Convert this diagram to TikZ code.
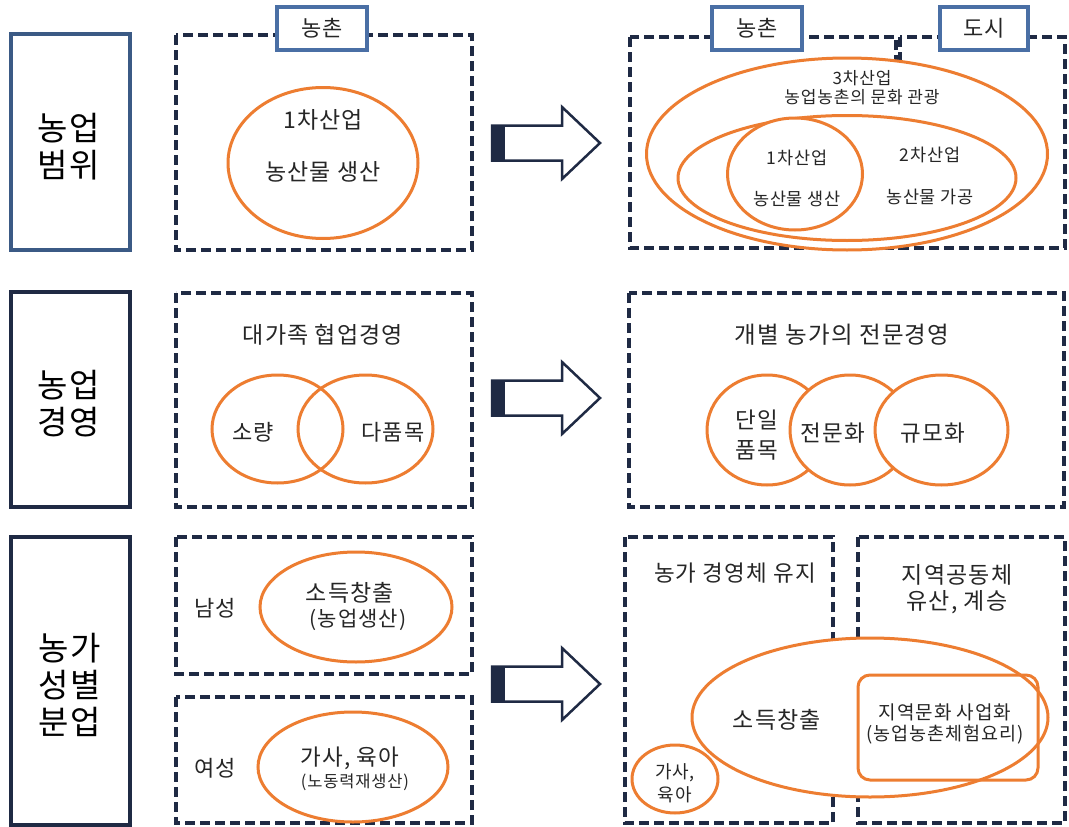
\documentclass[tikz,border=0pt]{standalone}
\usepackage{fontspec}
\setmainfont{Noto Sans CJK KR}[LetterSpace=5]
\usetikzlibrary{shapes.geometric}
\definecolor{orng}{HTML}{ED7D31}
\definecolor{navy}{HTML}{1F2A44}
\definecolor{tabblue}{HTML}{4A6FA5}
\definecolor{lblblue}{HTML}{3B5A85}
\definecolor{txt}{HTML}{262626}
\begin{document}
\begin{tikzpicture}[x=1pt,y=-1pt,
  dbox/.style={draw=navy, line width=3.6pt, dash pattern=on 10pt off 5pt},
  lblbox/.style={draw=navy, line width=4pt},
  tabbox/.style={draw=tabblue, line width=3.5pt, fill=white, inner sep=0pt},
  oval/.style={ellipse, draw=orng, line width=3pt, inner sep=0pt},
  arrowline/.style={draw=navy, line width=2.5pt, fill=white, line join=miter},
  t/.style={text=txt, inner sep=0pt, font=\fontsize{#1}{#1}\selectfont},
  big/.style={text=black, inner sep=0pt, align=center, font=\fontsize{33}{37}\selectfont}]
\useasboundingbox (0,0) rectangle (1069,827);
\fill[white] (0,0) rectangle (1069,827);

% left label boxes
\draw[lblbox, draw=lblblue] (11,34) rectangle (130,250);
\draw[lblbox] (11,292) rectangle (130,507);
\draw[lblbox] (11,537) rectangle (130,825);
\node[big] (L1) at (69,146.5) {농업\\범위};
\node[big] (L2) at (69,403.5) {농업\\경영};
\node[big] (L3) at (70,685) {농가\\성별\\분업};

% arrows
\foreach \c in {143,398,684} {
  \draw[arrowline] (492,\c-17.5) -- (562,\c-17.5) -- (562,\c-36) -- (600,\c)
     -- (562,\c+36) -- (562,\c+17.5) -- (492,\c+17.5) -- cycle;
  \fill[navy] (492,\c-18.5) rectangle (505,\c+18.5);
}

% ---------- row 1 left ----------
\draw[dbox] (176,35) rectangle (472,250);
\node[tabbox, minimum width=90pt, minimum height=43pt] (tabL) at (322,28.5) {};
\node[t=22] (tabLt) at (tabL) {농촌};
\node[oval, minimum width=190pt, minimum height=151pt] (e1) at (323,163) {};
\node[t=23] (e1a) at (323,120) {1차산업};
\node[t=23] (e1b) at (323,172) {농산물 생산};

% ---------- row 1 right ----------
\draw[dbox] (630,37) rectangle (896,248);
\draw[dbox] (900,37) rectangle (1065,248);
\node[tabbox, minimum width=90pt, minimum height=43pt] (tabR1) at (757,28.5) {};
\node[t=22] (tabR1t) at (tabR1) {농촌};
\node[tabbox, minimum width=88pt, minimum height=43pt] (tabR2) at (984,28.5) {};
\node[t=22] (tabR2t) at (tabR2) {도시};
\node[oval, fill=white, minimum width=401pt, minimum height=192pt] (o3) at (847,154) {};
\node[oval, fill=white, minimum width=338pt, minimum height=125pt] (o2) at (847,178) {};
\node[oval, fill=white, minimum width=135pt, minimum height=112pt] (o1) at (795,174) {};
\node[t=17] (o3a) at (862,78) {3차산업};
\node[t=17] (o3b) at (862,97) {농업농촌의 문화 관광};
\node[t=17.5] (o1a) at (797,158) {1차산업};
\node[t=17.5] (o1b) at (797,199) {농산물 생산};
\node[t=17.5] (o2a) at (930,155) {2차산업};
\node[t=17.5] (o2b) at (930,197) {농산물 가공};

% ---------- row 2 left ----------
\draw[dbox] (176,293) rectangle (472,507);
\node[t=23] (m1) at (323,335) {대가족 협업경영};
\node[oval, minimum width=131pt, minimum height=108pt] (v1) at (277.5,429) {};
\node[oval, minimum width=135pt, minimum height=108pt] (v2) at (365.5,429) {};
\node[t=22] (v1t) at (253,432) {소량};
\node[t=22] (v2t) at (393,432) {다품목};

% ---------- row 2 right ----------
\draw[dbox] (629,293) rectangle (1064,507);
\node[t=23.5] (m2) at (842,335) {개별 농가의 전문경영};
\node[oval, fill=white, minimum width=120pt, minimum height=110pt] (c1) at (767,430) {};
\node[oval, fill=white, minimum width=120pt, minimum height=110pt] (c2) at (850,430) {};
\node[oval, fill=white, minimum width=133pt, minimum height=110pt] (c3) at (941.5,430) {};
\node[t=22.5] (c1a) at (757,420) {단일};
\node[t=22.5] (c1b) at (757,450) {품목};
\node[t=22.5] (c2t) at (833,433) {전문화};
\node[t=22.5] (c3t) at (933,433) {규모화};

% ---------- row 3 left ----------
\draw[dbox] (176,537) rectangle (472,674);
\draw[dbox] (176,697) rectangle (472,823);
\node[t=22] (men) at (215,608) {남성};
\node[oval, minimum width=192pt, minimum height=110pt] (b1) at (356,607) {};
\node[t=23] (b1a) at (350,593) {소득창출};
\node[t=21] (b1b) at (358,620) {(농업생산)};
\node[t=22] (wom) at (215,768) {여성};
\node[oval, minimum width=190pt, minimum height=110pt] (b2) at (353,767) {};
\node[t=22.5] (b2a) at (350,758) {가사, 육아};
\node[t=16.5] (b2b) at (355,782) {(노동력재생산)};

% ---------- row 3 right ----------
\draw[dbox] (625,537) rectangle (833,823);
\draw[dbox] (858,537) rectangle (1065,823);
\node[t=22.5] (r1) at (735,573) {농가 경영체 유지};
\node[t=23] (r2a) at (957,575) {지역공동체};
\node[t=23] (r2b) at (957,602) {유산, 계승};
\node[oval, fill=white, minimum width=356pt, minimum height=159pt] (big) at (870,717.5) {};
\draw[orng, line width=3pt, rounded corners=12pt] (858,675) rectangle (1038,780);
\node[oval, fill=white, minimum width=86pt, minimum height=68pt] (sm) at (675,779) {};
\node[t=23] (bigt) at (777,720) {소득창출};
\node[t=19] (rra) at (945,712) {지역문화 사업화};
\node[t=18.5] (rrb) at (945,735) {(농업농촌체험요리)};
\node[t=18] (sma) at (675,773) {가사,};
\node[t=18] (smb) at (675,795) {육아};
\end{tikzpicture}
\end{document}
